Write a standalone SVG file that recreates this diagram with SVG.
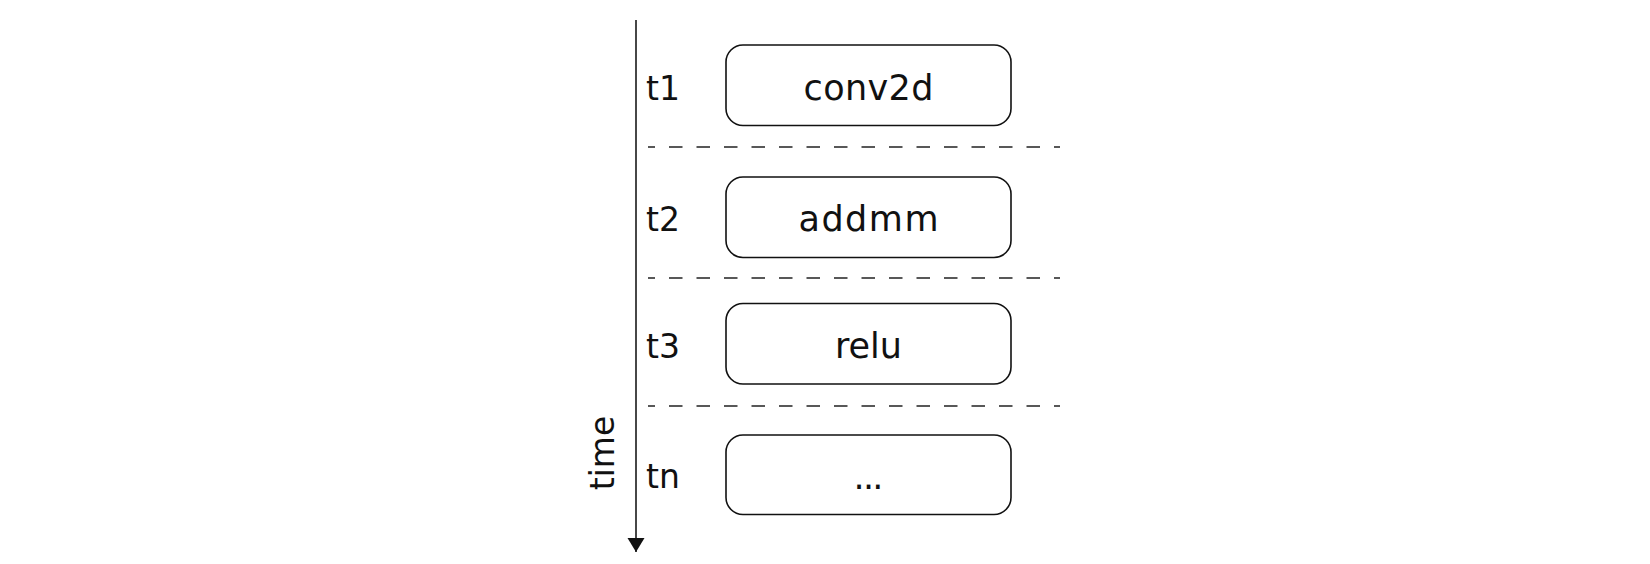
<svg xmlns="http://www.w3.org/2000/svg" width="1650" height="564" viewBox="0 0 1650 564">
<defs>
<style>
.box{fill:#fff;stroke:#111;stroke-width:1.6}
.lbl{font-family:"DejaVu Sans",sans-serif;font-size:33px;fill:#111}
.op{font-family:"DejaVu Sans",sans-serif;font-size:35px;fill:#111;text-anchor:middle}
.mid{text-anchor:middle}
.dash{stroke:#222;stroke-width:1.5;stroke-dasharray:13.5 14;stroke-dashoffset:6.5}
.axis{stroke:#333;stroke-width:1.8}
</style>
<marker id="ah" markerWidth="18" markerHeight="18" refX="14" refY="8.5" orient="auto" markerUnits="userSpaceOnUse">
<path d="M0,0 L14,8.5 L0,17 Z" fill="#111"/>
</marker>
</defs>
<rect width="1650" height="564" fill="#fff"/>
<g id="connectors">
<line class="axis" x1="636" y1="20" x2="636" y2="552" marker-end="url(#ah)"/>
<line class="dash" x1="648" y1="147" x2="1060" y2="147"/>
<line class="dash" x1="648" y1="278" x2="1060" y2="278"/>
<line class="dash" x1="648" y1="406" x2="1060" y2="406"/>
</g>
<g id="time-label">
<text class="lbl mid" transform="translate(614,453) rotate(-90)">time</text>
</g>
<g id="step-t1">
<text class="lbl" x="646" y="100">t1</text>
<rect class="box" x="726" y="45" width="285" height="80.5" rx="17"/>
<text class="op" x="868.5" y="100" textLength="130">conv2d</text>
</g>
<g id="step-t2">
<text class="lbl" x="646" y="231">t2</text>
<rect class="box" x="726" y="177" width="285" height="80.5" rx="17"/>
<text class="op" x="868.5" y="231" textLength="140">addmm</text>
</g>
<g id="step-t3">
<text class="lbl" x="646" y="358">t3</text>
<rect class="box" x="726" y="303.5" width="285" height="80.5" rx="17"/>
<text class="op" x="868.5" y="358">relu</text>
</g>
<g id="step-tn">
<text class="lbl" x="646" y="488">tn</text>
<rect class="box" x="726" y="435" width="285" height="79.5" rx="17"/>
<text class="op" x="868.5" y="489" textLength="30">...</text>
</g>
</svg>
